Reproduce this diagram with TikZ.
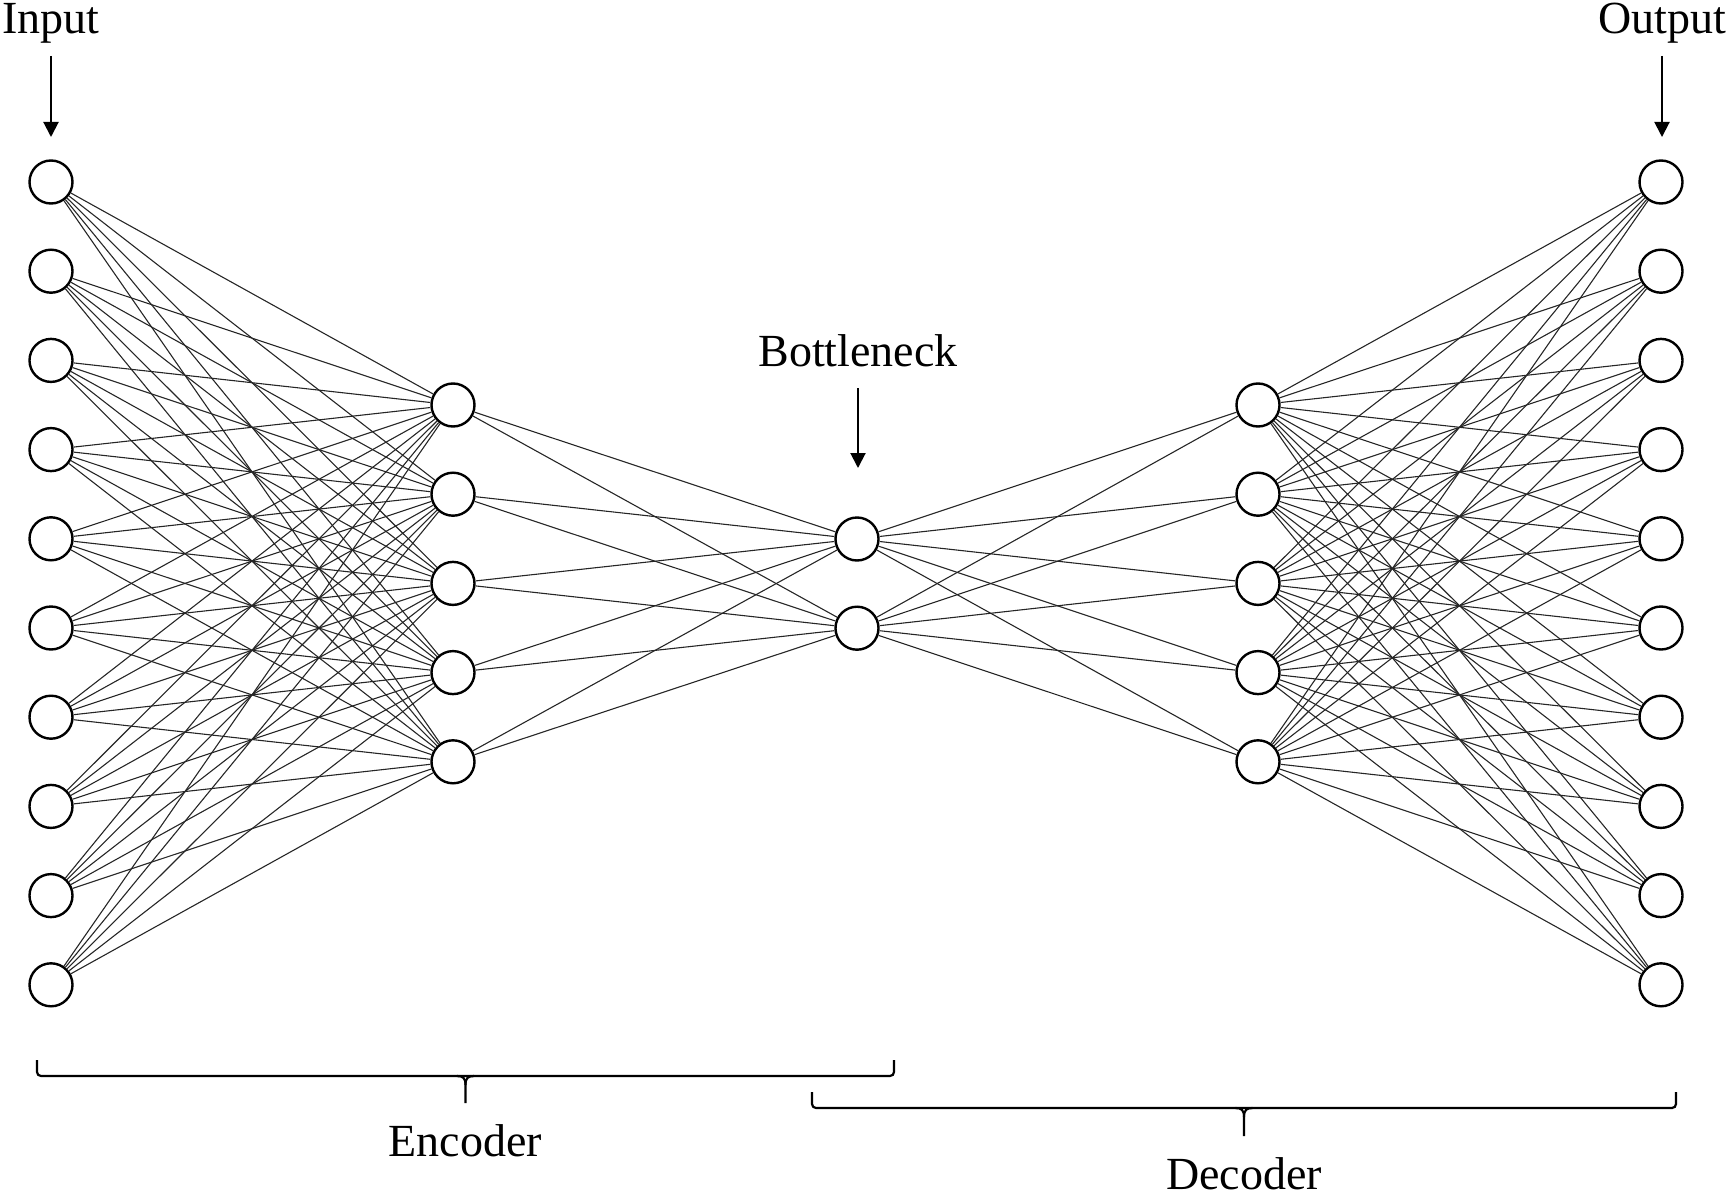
\documentclass[tikz,border=0pt]{standalone}
\usepackage{fontspec}
\setmainfont{Liberation Serif}
\usetikzlibrary{arrows.meta}
\begin{document}
\begin{tikzpicture}[x=1pt,y=-1pt,
  neuron/.style={circle,draw=black,line width=2.4pt,fill=white,minimum size=43pt,inner sep=0pt},
  link/.style={draw=black!85,line width=1.1pt},
  txt/.style={font=\fontsize{46}{50}\selectfont,anchor=base,inner sep=0pt},
  pointer/.style={line width=2pt,-{Triangle[width=15pt,length=15pt]}},
  bracket/.style={line width=2.2pt,rounded corners=4pt},
  bracktip/.style={line width=2.2pt}]
\useasboundingbox (0,0) rectangle (1727,1196);
% nodes
\foreach \i in {1,...,10} {
  \node[neuron] (in\i) at (51,{182+89.2*(\i-1)}) {};
  \node[neuron] (out\i) at (1661,{182+89.2*(\i-1)}) {};
}
\foreach \i in {1,...,5} {
  \node[neuron] (enc\i) at (453,{405+89.2*(\i-1)}) {};
  \node[neuron] (dec\i) at (1258,{405+89.2*(\i-1)}) {};
}
\foreach \i in {1,2} {
  \node[neuron] (bn\i) at (857,{539+89.2*(\i-1)}) {};
}
% connections
\foreach \i in {1,...,10} {
  \foreach \j in {1,...,5} {
    \draw[link] (in\i) -- (enc\j);
    \draw[link] (dec\j) -- (out\i);
  }
}
\foreach \j in {1,...,5} {
  \foreach \k in {1,2} {
    \draw[link] (enc\j) -- (bn\k);
    \draw[link] (bn\k) -- (dec\j);
  }
}
% labels and pointers
\node[txt] (inlab) at (51,34) {Input};
\node[txt] (outlab) at (1662,34) {Output};
\node[txt] (bnlab) at (858,366) {Bottleneck};
\coordinate (inA) at (51,56);
\coordinate (inB) at (51,137);
\coordinate (outA) at (1662,56);
\coordinate (outB) at (1662,137);
\coordinate (bnA) at (858,388);
\coordinate (bnB) at (858,468);
\draw[pointer] (inA) -- (inB);
\draw[pointer] (outA) -- (outB);
\draw[pointer] (bnA) -- (bnB);
% encoder bracket
\coordinate (eL) at (37,1060);
\coordinate (eR) at (894,1060);
\coordinate (eM) at (465.5,1076);
\coordinate (eT) at (465.5,1103);
\draw[bracket] (eL) -- (37,1076) -- (894,1076) -- (eR);
\draw[bracktip] (457,1076) .. controls (463,1076) and (465.5,1078) .. (465.5,1085) -- (eT);
\draw[bracktip] (474,1076) .. controls (468,1076) and (465.5,1078) .. (465.5,1085);
\node[txt] (enclab) at (465.5,1156) {Encoder};
% decoder bracket
\coordinate (dL) at (812,1092);
\coordinate (dR) at (1676,1092);
\coordinate (dM) at (1244,1108);
\coordinate (dT) at (1244,1136);
\draw[bracket] (dL) -- (812,1108) -- (1676,1108) -- (dR);
\draw[bracktip] (1235.5,1108) .. controls (1241.5,1108) and (1244,1110) .. (1244,1117) -- (dT);
\draw[bracktip] (1252.5,1108) .. controls (1246.5,1108) and (1244,1110) .. (1244,1117);
\node[txt] (declab) at (1244,1189) {Decoder};
\end{tikzpicture}
\end{document}
